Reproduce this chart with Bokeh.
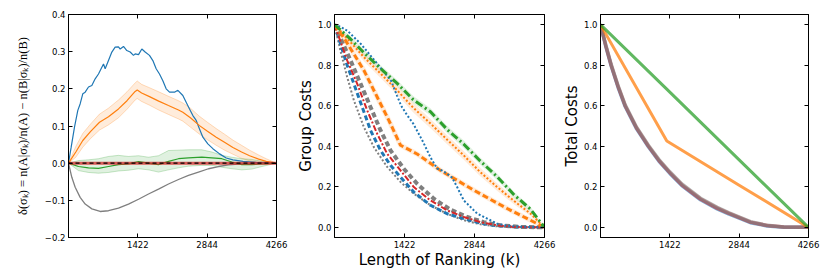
from bokeh.plotting import figure
from bokeh.models import FixedTicker, LinearAxis, CustomJSTickFormatter, Range1d
from bokeh.layouts import row
from bokeh.embed import file_html
from bokeh.resources import INLINE

# ---------------- data ----------------
K_MAX = 4266
x_ticks = [1422, 2844, 4266]
delta_ticks = [-0.2, -0.1, 0.0, 0.1, 0.2, 0.3, 0.4]
cost_ticks = [0.0, 0.2, 0.4, 0.6, 0.8, 1.0]

# Panel 1: delta(sigma_k)
d_blue_k = [0, 55, 123, 191, 240, 294, 342, 410, 479, 547, 615, 684, 718, 752, 820, 889, 957, 1025,
            1060, 1128, 1196, 1265, 1333, 1367, 1436, 1504, 1572, 1661, 1730, 1798, 1866, 1935, 2003,
            2072, 2174, 2243, 2345, 2413, 2482, 2551, 2619, 2687, 2756, 2858, 2961, 3098, 3235, 3372,
            3577, 3850, 4266]
d_blue = [0.0, 0.043, 0.097, 0.142, 0.160, 0.187, 0.191, 0.205, 0.209, 0.227, 0.240, 0.258, 0.267,
          0.254, 0.276, 0.299, 0.312, 0.313, 0.307, 0.314, 0.303, 0.299, 0.290, 0.294, 0.292, 0.307,
          0.299, 0.290, 0.276, 0.254, 0.240, 0.222, 0.200, 0.191, 0.191, 0.196, 0.182, 0.164, 0.146,
          0.128, 0.115, 0.092, 0.070, 0.052, 0.039, 0.025, 0.014, 0.009, 0.005, 0.002, 0.0]

d_orange_k = [0, 150, 293, 450, 636, 820, 1025, 1200, 1367, 1410, 1500, 1661, 1850, 2050, 2256, 2345,
              2500, 2687, 2850, 3030, 3200, 3372, 3550, 3714, 3900, 4055, 4266]
d_orange = [0.0, 0.030, 0.061, 0.085, 0.110, 0.125, 0.146, 0.168, 0.193, 0.197, 0.189, 0.179, 0.167,
            0.155, 0.143, 0.137, 0.122, 0.101, 0.086, 0.070, 0.056, 0.042, 0.030, 0.020, 0.011, 0.005, 0.0]
d_orange_hi = [0.0, 0.045, 0.080, 0.105, 0.132, 0.148, 0.170, 0.192, 0.216, 0.221, 0.212, 0.203, 0.192,
               0.180, 0.168, 0.162, 0.148, 0.126, 0.110, 0.093, 0.078, 0.062, 0.048, 0.035, 0.022, 0.012, 0.0]
d_orange_lo = [0.0, 0.016, 0.043, 0.066, 0.089, 0.103, 0.122, 0.145, 0.170, 0.174, 0.166, 0.156, 0.143,
               0.131, 0.119, 0.113, 0.097, 0.078, 0.063, 0.048, 0.035, 0.024, 0.013, 0.006, 0.001, -0.002, 0.0]

d_green_k = [0, 205, 410, 615, 820, 1025, 1230, 1436, 1641, 1846, 2051, 2256, 2461, 2734, 2940, 3145,
             3350, 3555, 3760, 3965, 4266]
d_green = [0.0, -0.009, -0.0125, -0.014, -0.009, -0.004, -0.002, 0.004, 0.0, -0.004, 0.005, 0.012,
           0.014, 0.016, 0.014, 0.012, 0.003, -0.004, -0.004, -0.002, 0.0]
d_green_hi = [0.0, 0.007, 0.009, 0.012, 0.018, 0.021, 0.018, 0.020, 0.016, 0.020, 0.034, 0.035, 0.036,
              0.036, 0.030, 0.021, 0.016, 0.012, 0.010, 0.005, 0.0]
d_green_lo = [0.0, -0.020, -0.025, -0.027, -0.025, -0.021, -0.019, -0.015, -0.018, -0.024, -0.018,
              -0.0125, -0.008, -0.006, -0.006, -0.011, -0.015, -0.018, -0.016, -0.009, 0.0]

d_red_k = [0, 1422, 2844, 4266]
d_red = [0.0, 0.0, 0.0, 0.0]

d_gray_k = [0, 68, 137, 239, 342, 479, 649, 820, 1025, 1230, 1436, 1641, 1846, 2051, 2256, 2461, 2666,
            2871, 3076, 3281, 3555, 3897, 4266]
d_gray = [0.0, -0.038, -0.065, -0.092, -0.110, -0.123, -0.130, -0.128, -0.121, -0.110, -0.097, -0.083,
          -0.070, -0.056, -0.044, -0.033, -0.024, -0.015, -0.009, -0.0045, -0.002, 0.0, 0.0]

zero_k = [0, 4266]
zero_v = [0.0, 0.0]

# Panel 2: group costs
g_green_k = [0, 300, 596, 950, 1273, 1600, 1950, 2300, 2626, 2950, 3303, 3650, 3980, 4266]
g_green = [1.0, 0.935, 0.862, 0.78, 0.71, 0.63, 0.57, 0.48, 0.41, 0.33, 0.25, 0.16, 0.09, 0.0]
g_green_hi = [1.0, 0.95, 0.878, 0.797, 0.727, 0.648, 0.588, 0.498, 0.428, 0.347, 0.266, 0.175, 0.103, 0.0]
g_green_lo = [1.0, 0.92, 0.846, 0.763, 0.693, 0.612, 0.552, 0.462, 0.392, 0.313, 0.234, 0.145, 0.077, 0.0]

g_orange_dot_k = [0, 300, 596, 950, 1273, 1600, 1950, 2300, 2626, 2950, 3303, 3650, 3980, 4266]
g_orange_dot = [1.0, 0.92, 0.84, 0.755, 0.676, 0.59, 0.512, 0.43, 0.355, 0.275, 0.199, 0.13, 0.068, 0.0]
g_orange_dot_hi = [1.0, 0.935, 0.86, 0.777, 0.698, 0.613, 0.535, 0.452, 0.377, 0.296, 0.218, 0.147, 0.08, 0.0]
g_orange_dot_lo = [1.0, 0.905, 0.82, 0.733, 0.654, 0.567, 0.489, 0.408, 0.333, 0.254, 0.18, 0.113, 0.056, 0.0]

g_orange_dash_k = [0, 203, 406, 596, 867, 1104, 1341, 1679, 2153, 2830, 3507, 4266]
g_orange_dash = [1.0, 0.93, 0.85, 0.775, 0.643, 0.528, 0.405, 0.362, 0.281, 0.183, 0.093, 0.0]

g_blue_dot_k = [0, 120, 271, 542, 880, 1151, 1270, 1354, 1477, 1599, 1747, 1802, 1950, 2086, 2187, 2289,
                2390, 2491, 2626, 2695, 2898, 3169, 3303, 3508, 3779, 4266]
g_blue_dot = [1.0, 0.99, 0.968, 0.903, 0.804, 0.722, 0.65, 0.60, 0.553, 0.512, 0.445, 0.42, 0.345, 0.29,
              0.28, 0.265, 0.245, 0.199, 0.133, 0.117, 0.068, 0.035, 0.018, 0.008, 0.003, 0.0]

g_gray_dot_k = [0, 122, 257, 393, 596, 799, 1070, 1341, 1611, 1950, 2289, 2627, 2966, 3304, 3643, 4266]
g_gray_dot = [1.0, 0.87, 0.742, 0.627, 0.495, 0.396, 0.298, 0.224, 0.166, 0.109, 0.067, 0.035, 0.015,
              0.005, 0.0, 0.0]

g_blue_dash_k = [0, 257, 393, 562, 731, 934, 1138, 1341, 1611, 1950, 2289, 2627, 2966, 3304, 3643, 4266]
g_blue_dash = [1.0, 0.80, 0.709, 0.594, 0.479, 0.380, 0.306, 0.248, 0.174, 0.109, 0.067, 0.043, 0.021,
               0.008, 0.002, 0.0]

g_red_k = [0, 257, 460, 664, 867, 1070, 1341, 1611, 1950, 2289, 2627, 2966, 3304, 3643, 4266]
g_red = [1.0, 0.824, 0.709, 0.577, 0.462, 0.363, 0.281, 0.199, 0.133, 0.084, 0.051, 0.026, 0.010,
         0.002, 0.0]

g_gray_dash_k = [0, 325, 528, 731, 934, 1138, 1408, 1679, 2018, 2356, 2695, 3033, 3372, 3778, 4266]
g_gray_dash = [1.0, 0.824, 0.709, 0.594, 0.479, 0.380, 0.289, 0.215, 0.141, 0.087, 0.051, 0.026, 0.010,
               0.002, 0.0]

# Panel 3: total costs
t_green_k = [0, 1422, 2844, 4266]
t_green = [1.0, 0.667, 0.333, 0.0]
t_orange_k = [0, 1360, 2844, 4266]
t_orange = [1.0, 0.426, 0.208, 0.0]
t_conv_k = [0, 110, 219, 360, 506, 740, 985, 1200, 1422, 1668, 2051, 2393, 2625, 3076, 3418, 3760, 4266]
t_blue = [1.0, 0.891, 0.796, 0.691, 0.596, 0.486, 0.396, 0.326, 0.266, 0.206, 0.136, 0.091, 0.066,
          0.023, 0.007, 0.001, 0.0]
t_red = [1.0, 0.895, 0.80, 0.695, 0.60, 0.49, 0.40, 0.33, 0.27, 0.21, 0.14, 0.095, 0.07, 0.026,
         0.009, 0.002, 0.0]
t_gray = [1.0, 0.899, 0.804, 0.699, 0.604, 0.494, 0.404, 0.334, 0.274, 0.214, 0.144, 0.099, 0.073,
          0.028, 0.010, 0.002, 0.0]

BLUE, ORANGE, GREEN, RED, GRAY = "#1f77b4", "#ff7f0e", "#2ca02c", "#d62728", "#7f7f7f"
FONT = "DejaVu Sans"

fmt1 = CustomJSTickFormatter(code="var s = tick.toFixed(1); if (tick < -1e-9) { s = '\\u2212' + Math.abs(tick).toFixed(1); } return s;")
fmtx = CustomJSTickFormatter(code="return tick.toFixed(0);")
blank = CustomJSTickFormatter(code="return '';")


def style_axis(ax):
    ax.major_tick_in = 4
    ax.major_tick_out = 0
    ax.minor_tick_in = 0
    ax.minor_tick_out = 0
    ax.axis_line_color = "black"
    ax.major_tick_line_color = "black"
    ax.major_label_text_font = FONT
    ax.major_label_text_font_size = "8.5px"
    ax.major_label_text_color = "black"
    ax.major_label_standoff = 3
    ax.axis_label_text_font_style = "normal"
    ax.axis_label_text_color = "black"


def make_fig(left, right, frame_w, ylo, yhi, yticks, ylabel, xlabel, ylabel_font, ylabel_size, ylabel_standoff):
    p = figure(frame_width=frame_w, frame_height=223,
               x_range=Range1d(0, K_MAX), y_range=Range1d(ylo, yhi),
               output_backend="svg", toolbar_location=None,
               min_border_left=left, min_border_right=right,
               min_border_top=14, min_border_bottom=32)
    p.grid.visible = False
    p.outline_line_color = "black"
    p.outline_line_alpha = 1.0
    p.outline_line_width = 1
    p.background_fill_color = "white"
    p.border_fill_color = "white"

    p.xaxis.ticker = FixedTicker(ticks=x_ticks)
    p.xaxis.formatter = fmtx
    p.yaxis.ticker = FixedTicker(ticks=yticks)
    p.yaxis.formatter = fmt1
    for ax in p.xaxis + p.yaxis:
        style_axis(ax)
    p.yaxis.axis_label = ylabel
    p.yaxis.axis_label_text_font = ylabel_font
    p.yaxis.axis_label_text_font_size = ylabel_size
    p.yaxis.axis_label_standoff = ylabel_standoff
    if xlabel:
        p.xaxis.axis_label = xlabel
        p.xaxis.axis_label_text_font = FONT
        p.xaxis.axis_label_text_font_size = "15px"
        p.xaxis.axis_label_standoff = 0

    top = LinearAxis(ticker=FixedTicker(ticks=x_ticks), formatter=blank)
    rgt = LinearAxis(ticker=FixedTicker(ticks=yticks), formatter=blank)
    for ax in (top, rgt):
        style_axis(ax)
        ax.major_label_standoff = 0
    p.add_layout(top, "above")
    p.add_layout(rgt, "right")
    return p


# ---------- Panel 1 ----------
p1 = make_fig(68, 14, 208, -0.2, 0.4, delta_ticks,
              "δ(σₖ) = n(A|σₖ)/n(A) − n(B|σₖ)/n(B)", None,
              "Liberation Serif", "12.5px", 12)
p1.varea(x=d_orange_k, y1=d_orange_lo, y2=d_orange_hi, fill_color=ORANGE, fill_alpha=0.15)
p1.line(d_orange_k, d_orange_hi, line_color=ORANGE, line_alpha=0.25, line_width=1)
p1.line(d_orange_k, d_orange_lo, line_color=ORANGE, line_alpha=0.25, line_width=1)
p1.varea(x=d_green_k, y1=d_green_lo, y2=d_green_hi, fill_color=GREEN, fill_alpha=0.15)
p1.line(d_green_k, d_green_hi, line_color=GREEN, line_alpha=0.25, line_width=1)
p1.line(d_green_k, d_green_lo, line_color=GREEN, line_alpha=0.25, line_width=1)
p1.line(d_gray_k, d_gray, line_color=GRAY, line_width=1.3)
p1.line(d_blue_k, d_blue, line_color=BLUE, line_width=1.2)
p1.line(d_orange_k, d_orange, line_color=ORANGE, line_width=1.2)
p1.line(d_green_k, d_green, line_color=GREEN, line_width=1.2)
p1.line(d_red_k, d_red, line_color=RED, line_width=3, line_alpha=0.75)
p1.line(zero_k, zero_v, line_color="black", line_width=1.2, line_dash="4 3")

# ---------- Panel 2 ----------
p2 = make_fig(44, 14, 210, -0.05, 1.05, cost_ticks, "Group Costs", "Length of Ranking (k)",
              FONT, "15px", 0)
p2.varea(x=g_green_k, y1=g_green_lo, y2=g_green_hi, fill_color=GREEN, fill_alpha=0.15)
p2.varea(x=g_orange_dot_k, y1=g_orange_dot_lo, y2=g_orange_dot_hi, fill_color=ORANGE, fill_alpha=0.15)
p2.line(g_gray_dot_k, g_gray_dot, line_color=GRAY, line_width=2, line_dash="2 2")
p2.line(g_blue_dash_k, g_blue_dash, line_color=BLUE, line_width=3, line_dash="5 3")
p2.line(g_gray_dash_k, g_gray_dash, line_color=GRAY, line_width=4, line_dash="5 3")
p2.line(g_red_k, g_red, line_color=RED, line_width=2, line_dash="6 2 2 2")
p2.line(g_orange_dash_k, g_orange_dash, line_color=ORANGE, line_width=5, line_alpha=0.15)
p2.line(g_orange_dash_k, g_orange_dash, line_color=ORANGE, line_width=3, line_dash="6 3")
p2.line(g_blue_dot_k, g_blue_dot, line_color=BLUE, line_width=2, line_dash="2 2")
p2.line(g_orange_dot_k, g_orange_dot, line_color=ORANGE, line_width=2, line_dash="2 2")
p2.line(g_green_k, g_green, line_color=GREEN, line_width=3, line_dash="8 3 2 3")

# ---------- Panel 3 ----------
p3 = make_fig(42, 12, 208, -0.05, 1.05, cost_ticks, "Total Costs", None, FONT, "15px", 0)
p3.line(t_conv_k, t_blue, line_color=BLUE, line_width=3.5, line_alpha=0.6)
p3.line(t_conv_k, t_red, line_color=RED, line_width=3.5, line_alpha=0.6)
p3.line(t_conv_k, t_gray, line_color=GRAY, line_width=3.5, line_alpha=0.6)
p3.line(t_orange_k, t_orange, line_color=ORANGE, line_width=3, line_alpha=0.75)
p3.line(t_green_k, t_green, line_color=GREEN, line_width=3, line_alpha=0.75)

layout = row(p1, p2, p3)
open("out.html", "w").write(file_html(layout, INLINE))
